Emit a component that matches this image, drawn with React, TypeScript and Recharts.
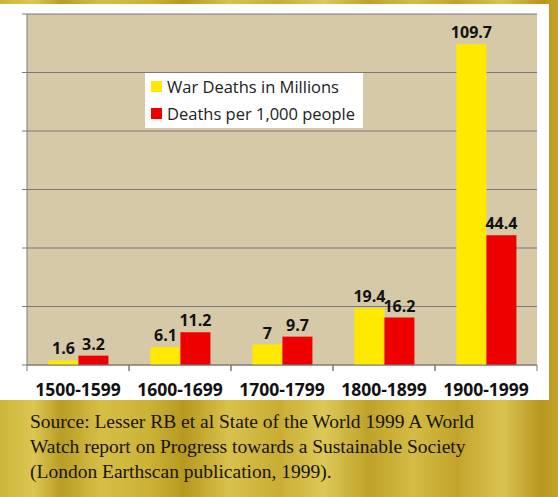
import React from 'react';
import { BarChart, Bar, XAxis, YAxis, CartesianGrid, Legend, LabelList } from 'recharts';

const centuries = ['1500-1599', '1600-1699', '1700-1799', '1800-1899', '1900-1999'];
const warDeaths = [1.6, 6.1, 7, 19.4, 109.7];
const deathsPer1000 = [3.2, 11.2, 9.7, 16.2, 44.4];
const yTicks = [0, 20, 40, 60, 80, 100, 120];

const data = centuries.map((c, i) => ({ century: c, war: warDeaths[i], rate: deathsPer1000[i] }));

const YELLOW = '#ffe900';
const RED = '#ee0000';
const GOLD = 'linear-gradient(90deg, #cdb53a 0%, #dcc652 6%, #b99d24 11%, #d6be46 18%, #cbb136 27%, #b7991f 33%, #d8c14c 41%, #c9ad34 50%, #ddc858 58%, #bfa229 66%, #d4bb44 74%, #c2a42b 82%, #d9c350 90%, #b9961f 97%, #c3a22a 100%)';

const CenturyTick = (props: any) => {
  const { x, y, payload } = props;
  const half = payload.offset || 51;
  return (
    <g>
      <line x1={x - half} x2={x - half} y1={y - 8} y2={y - 2} stroke="#7a7a7a" />
      <line x1={x + half} x2={x + half} y1={y - 8} y2={y - 2} stroke="#7a7a7a" />
      <text x={x} y={y + 23} textAnchor="middle" fill="#111" fontSize={17.5} fontWeight="bold" fontFamily="'Open Sans', sans-serif">
        {payload.value}
      </text>
    </g>
  );
};

const LegendBox = () => (
  <div style={{ background: '#fff', width: 218, height: 55, fontFamily: "'Open Sans', sans-serif", fontSize: 16.5, color: '#222', textAlign: 'left' }}>
    {[{ c: YELLOW, t: 'War Deaths in Millions' }, { c: RED, t: 'Deaths per 1,000 people' }].map((it, i) => (
      <div key={i} style={{ display: 'flex', alignItems: 'center', height: 27, paddingLeft: 6 }}>
        <span style={{ width: 11, height: 11, background: it.c, display: 'inline-block', marginRight: 5 }} />
        <span>{it.t}</span>
      </div>
    ))}
  </div>
);

export default function App() {
  return (
    <div style={{ position: 'absolute', left: 0, top: 0, width: 558, height: 497, background: GOLD, overflow: 'hidden' }}>
      <div style={{ position: 'absolute', left: 0, top: 4, width: 549, height: 396, background: '#fff' }} />
      <div style={{ position: 'absolute', left: 0, top: 4 }}>
        <BarChart width={549} height={420} data={data} margin={{ top: 10, right: 12, left: 0, bottom: 29 }} barCategoryGap="21%" barGap={0}>
          <CartesianGrid vertical={false} fill="#d6c9a8" stroke="#7a7a7a" strokeWidth={1.2} />
          <XAxis dataKey="century" height={30} axisLine={{ stroke: '#7a7a7a' }} tickLine={false} tick={<CenturyTick />} interval={0} />
          <YAxis domain={[0, 120]} ticks={yTicks} width={27} axisLine={{ stroke: '#7a7a7a' }} tickLine={{ stroke: '#7a7a7a' }} tickSize={5} tickFormatter={() => ''} />
          <Legend content={<LegendBox />} layout="horizontal" align="center" verticalAlign="middle" wrapperStyle={{ position: 'absolute', left: 145, top: 69, width: 218, height: 55 }} />
          <Bar dataKey="war" fill={YELLOW} isAnimationActive={false}>
            <LabelList dataKey="war" position="top" offset={6} fill="#111" fontSize={16} fontWeight="bold" fontFamily="'Open Sans', sans-serif" />
          </Bar>
          <Bar dataKey="rate" fill={RED} isAnimationActive={false}>
            <LabelList dataKey="rate" position="top" offset={6} fill="#111" fontSize={16} fontWeight="bold" fontFamily="'Open Sans', sans-serif" />
          </Bar>
        </BarChart>
      </div>
      <div style={{ position: 'absolute', left: 30, top: 409, width: 525, whiteSpace: 'nowrap', fontFamily: "'Liberation Serif', 'Times New Roman', serif", fontSize: 19.5, lineHeight: '25px', color: '#17140a' }}>
        Source: Lesser RB et al State of the World 1999 A World<br />
        Watch report on Progress towards a Sustainable Society<br />
        (London Earthscan publication, 1999).
      </div>
    </div>
  );
}
